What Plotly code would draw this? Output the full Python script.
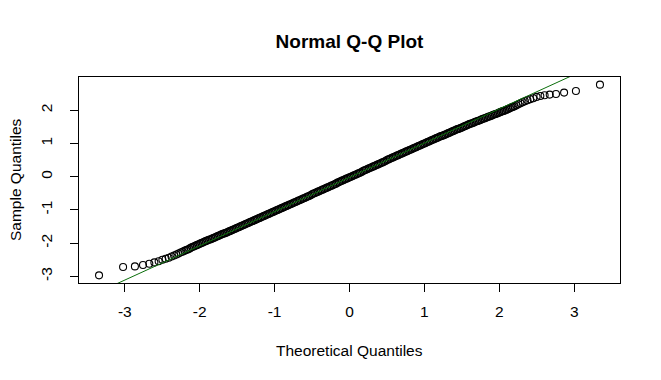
import plotly.graph_objects as go

# ---- data (theoretical quantile, sample quantile) ----
left_tail_x = [-3.344, -3.023, -2.865, -2.757, -2.673, -2.605, -2.548, -2.498, -2.454, -2.413,
               -2.376, -2.342, -2.311, -2.282, -2.254, -2.229, -2.204, -2.181, -2.160, -2.139]
left_tail_y = [-2.97, -2.72, -2.70, -2.66, -2.62, -2.58, -2.545, -2.50, -2.47, -2.44,
               -2.40, -2.37, -2.34, -2.31, -2.28, -2.26, -2.23, -2.21, -2.19, -2.17]

band_x = [-2.12, -2.10, -2.08, -2.06, -2.04, -2.02, -2.00, -1.98, -1.96, -1.94, -1.92, -1.90,
          -1.88, -1.86, -1.84, -1.82, -1.80, -1.78, -1.76, -1.74, -1.72, -1.70, -1.68, -1.66,
          -1.64, -1.62, -1.60, -1.58, -1.56, -1.54, -1.52, -1.50, -1.48, -1.46, -1.44, -1.42,
          -1.40, -1.38, -1.36, -1.34, -1.32, -1.30, -1.28, -1.26, -1.24, -1.22, -1.20, -1.18,
          -1.16, -1.14, -1.12, -1.10, -1.08, -1.06, -1.04, -1.02, -1.00, -0.98, -0.96, -0.94,
          -0.92, -0.90, -0.88, -0.86, -0.84, -0.82, -0.80, -0.78, -0.76, -0.74, -0.72, -0.70,
          -0.68, -0.66, -0.64, -0.62, -0.60, -0.58, -0.56, -0.54, -0.52, -0.50, -0.48, -0.46,
          -0.44, -0.42, -0.40, -0.38, -0.36, -0.34, -0.32, -0.30, -0.28, -0.26, -0.24, -0.22,
          -0.20, -0.18, -0.16, -0.14, -0.12, -0.10, -0.08, -0.06, -0.04, -0.02, 0.00, 0.02,
          0.04, 0.06, 0.08, 0.10, 0.12, 0.14, 0.16, 0.18, 0.20, 0.22, 0.24, 0.26,
          0.28, 0.30, 0.32, 0.34, 0.36, 0.38, 0.40, 0.42, 0.44, 0.46, 0.48, 0.50,
          0.52, 0.54, 0.56, 0.58, 0.60, 0.62, 0.64, 0.66, 0.68, 0.70, 0.72, 0.74,
          0.76, 0.78, 0.80, 0.82, 0.84, 0.86, 0.88, 0.90, 0.92, 0.94, 0.96, 0.98,
          1.00, 1.02, 1.04, 1.06, 1.08, 1.10, 1.12, 1.14, 1.16, 1.18, 1.20, 1.22,
          1.24, 1.26, 1.28, 1.30, 1.32, 1.34, 1.36, 1.38, 1.40, 1.42, 1.44, 1.46,
          1.48, 1.50, 1.52, 1.54, 1.56, 1.58, 1.60, 1.62, 1.64, 1.66, 1.68, 1.70,
          1.72, 1.74, 1.76, 1.78, 1.80, 1.82, 1.84, 1.86, 1.88, 1.90, 1.92, 1.94,
          1.96, 1.98, 2.00, 2.02, 2.04, 2.06, 2.08, 2.10, 2.12]
band_y = [-2.14, -2.12, -2.10, -2.08, -2.06, -2.04, -2.02, -2.00, -1.98, -1.96, -1.94, -1.92,
          -1.90, -1.89, -1.87, -1.85, -1.83, -1.81, -1.79, -1.77, -1.75, -1.73, -1.71, -1.70,
          -1.68, -1.66, -1.64, -1.62, -1.60, -1.58, -1.56, -1.54, -1.52, -1.50, -1.48, -1.46,
          -1.44, -1.42, -1.40, -1.38, -1.36, -1.34, -1.32, -1.30, -1.28, -1.26, -1.24, -1.22,
          -1.20, -1.18, -1.16, -1.14, -1.12, -1.10, -1.08, -1.06, -1.04, -1.02, -1.00, -0.98,
          -0.96, -0.94, -0.92, -0.90, -0.88, -0.86, -0.84, -0.82, -0.80, -0.78, -0.76, -0.74,
          -0.72, -0.70, -0.68, -0.66, -0.64, -0.62, -0.60, -0.58, -0.56, -0.53, -0.51, -0.49,
          -0.47, -0.45, -0.43, -0.41, -0.39, -0.37, -0.35, -0.33, -0.31, -0.29, -0.27, -0.25,
          -0.23, -0.21, -0.18, -0.16, -0.14, -0.12, -0.10, -0.08, -0.06, -0.04, -0.02, 0.00,
          0.02, 0.04, 0.06, 0.08, 0.10, 0.12, 0.14, 0.17, 0.19, 0.21, 0.23, 0.25,
          0.27, 0.29, 0.31, 0.33, 0.35, 0.37, 0.39, 0.41, 0.43, 0.45, 0.47, 0.50,
          0.52, 0.54, 0.56, 0.58, 0.60, 0.62, 0.64, 0.66, 0.68, 0.70, 0.72, 0.74,
          0.76, 0.78, 0.80, 0.82, 0.84, 0.86, 0.88, 0.90, 0.92, 0.94, 0.96, 0.98,
          1.00, 1.02, 1.04, 1.06, 1.08, 1.10, 1.12, 1.14, 1.16, 1.18, 1.20, 1.22,
          1.23, 1.25, 1.27, 1.29, 1.31, 1.33, 1.35, 1.37, 1.39, 1.41, 1.43, 1.44,
          1.46, 1.48, 1.50, 1.52, 1.54, 1.56, 1.58, 1.60, 1.61, 1.63, 1.65, 1.67,
          1.68, 1.70, 1.72, 1.74, 1.75, 1.77, 1.79, 1.81, 1.82, 1.84, 1.86, 1.88,
          1.89, 1.91, 1.93, 1.95, 1.97, 1.98, 2.00, 2.02, 2.04]

right_tail_x = [2.139, 2.160, 2.181, 2.204, 2.229, 2.254, 2.282, 2.311, 2.342, 2.376,
                2.413, 2.454, 2.498, 2.548, 2.605, 2.673, 2.757, 2.865, 3.023, 3.344]
right_tail_y = [2.06, 2.08, 2.10, 2.12, 2.15, 2.18, 2.21, 2.24, 2.27, 2.30,
                2.33, 2.36, 2.40, 2.43, 2.45, 2.47, 2.49, 2.53, 2.58, 2.77]

# qqline: passes through the first and third quartiles
quartile_theoretical = [-0.6745, 0.6745]
quartile_sample = [-0.715, 0.675]

x_ticks = [-3, -2, -1, 0, 1, 2, 3]
y_ticks = [-3, -2, -1, 0, 1, 2]

title_text = "Normal Q-Q Plot"
x_label = "Theoretical Quantiles"
y_label = "Sample Quantiles"

# ---- build ----
xs = left_tail_x + band_x + right_tail_x
ys = left_tail_y + band_y + right_tail_y


def r_range(v):
    lo, hi = min(v), max(v)
    ext = 0.04 * (hi - lo)
    return [lo - ext, hi + ext]


xr = r_range(xs)
yr = r_range(ys)

slope = (quartile_sample[1] - quartile_sample[0]) / (quartile_theoretical[1] - quartile_theoretical[0])
intercept = quartile_sample[0] - slope * quartile_theoretical[0]
line_x = [xr[0] - 1, xr[1] + 1]
line_y = [intercept + slope * v for v in line_x]

FONT = "Liberation Sans, Arial, sans-serif"

fig = go.Figure()
fig.add_trace(go.Scatter(
    x=xs, y=ys, mode="markers",
    marker=dict(symbol="circle-open", size=7, color="black", line=dict(width=1.1, color="black")),
    showlegend=False, hoverinfo="x+y",
))
fig.add_trace(go.Scatter(
    x=line_x, y=line_y, mode="lines",
    line=dict(color="#0b6e0b", width=1),
    showlegend=False, hoverinfo="skip",
))

axis_common = dict(
    showgrid=False, zeroline=False, showline=True, mirror=True,
    linecolor="black", linewidth=1,
    ticks="outside", ticklen=8, tickwidth=1, tickcolor="black",
    tickfont=dict(family=FONT, size=15.5, color="black"),
)

fig.update_layout(
    width=661, height=380,
    margin=dict(l=79, r=41, t=77, b=97),
    paper_bgcolor="white", plot_bgcolor="white",
    font=dict(family=FONT, color="black"),
    title=dict(text="<b>" + title_text + "</b>", x=0.5, xref="paper", xanchor="center",
               y=(380 - 41) / 380, yref="container", yanchor="middle",
               font=dict(family=FONT, size=19, color="black")),
    xaxis=dict(range=xr, tickvals=x_ticks, ticktext=[str(t) for t in x_ticks],
               ticklabelstandoff=6, **axis_common),
    yaxis=dict(range=yr, tickvals=y_ticks, ticktext=[str(t) for t in y_ticks],
               tickangle=-90, ticklabelstandoff=12, **axis_common),
    annotations=[
        dict(text=x_label, xref="paper", yref="paper", x=0.5, y=0, yshift=-67,
             xanchor="center", yanchor="middle", showarrow=False,
             font=dict(family=FONT, size=15.5, color="black")),
        dict(text=y_label, xref="paper", yref="paper", x=0, y=0.5, xshift=-64,
             xanchor="center", yanchor="middle", textangle=-90, showarrow=False,
             font=dict(family=FONT, size=15.5, color="black")),
    ],
)

fig.write_html("out.html", config={"displayModeBar": False},
               post_script="document.body.style.margin='0';")
